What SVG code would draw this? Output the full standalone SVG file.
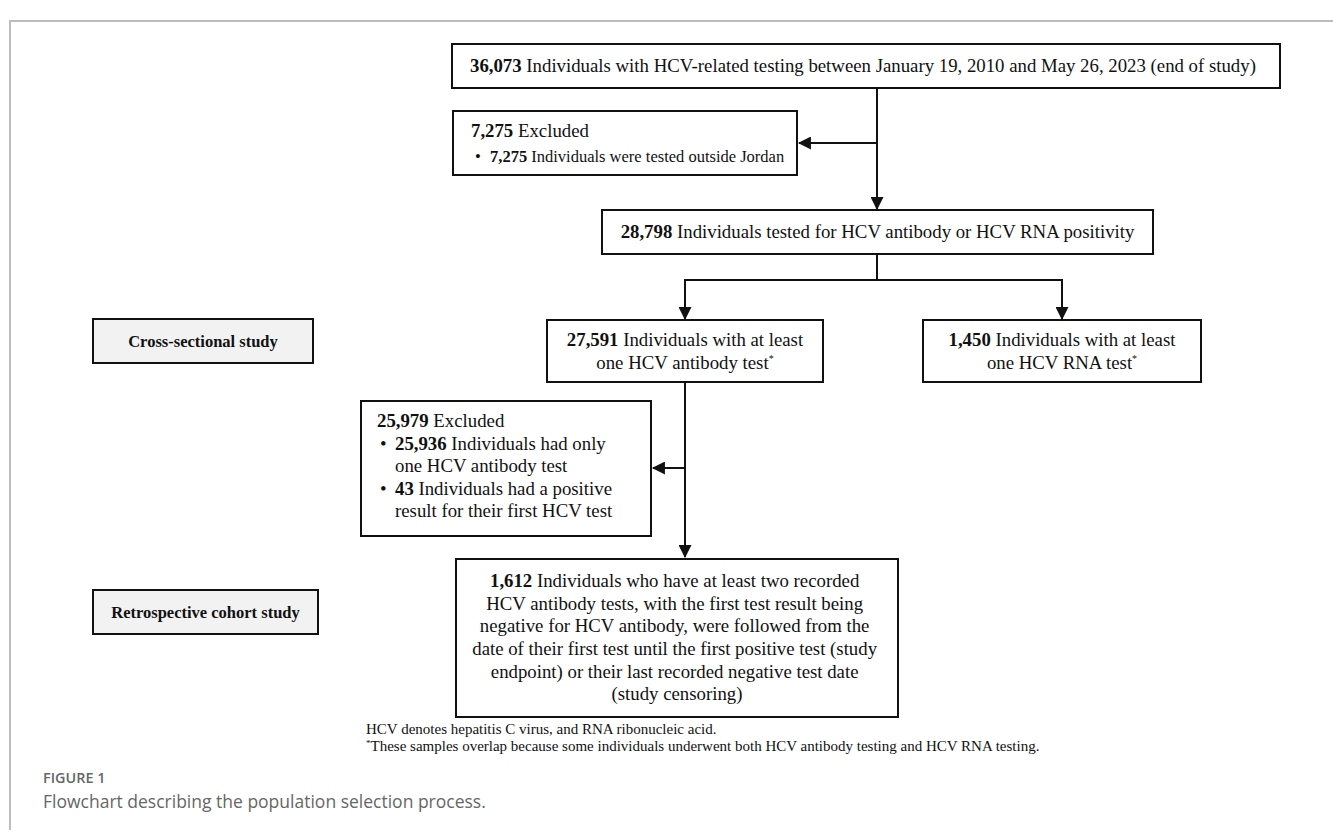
<svg xmlns="http://www.w3.org/2000/svg" width="1333" height="838" viewBox="0 0 1333 838">
<style>
.t{font-family:"Liberation Serif","Times New Roman",serif;font-size:18.8px;fill:#111}
.b{font-weight:bold}
.lbl{font-family:"Liberation Serif","Times New Roman",serif;font-size:16.5px;font-weight:bold;fill:#111}
.box{fill:#fff;stroke:#111;stroke-width:2}
.gbox{fill:#f2f2f2;stroke:#111;stroke-width:2}
.ln{fill:none;stroke:#111;stroke-width:2}
.fn{font-family:"Liberation Serif","Times New Roman",serif;font-size:15px;fill:#111}
.cap{font-family:"Open Sans","Noto Sans",sans-serif;fill:#666}
</style>
<defs>
<marker id="ah" viewBox="0 0 12 12" refX="11" refY="6" markerWidth="13" markerHeight="13" markerUnits="userSpaceOnUse" orient="auto">
<path d="M0,0 L12,6 L0,12 Z" fill="#111"/>
</marker>
</defs>
<rect width="1333" height="838" fill="#fff"/>
<path d="M10,830 V21 H1333" fill="none" stroke="#bdbdbd" stroke-width="2"/>

<g id="connectors">
<path class="ln" d="M877,88 V209" marker-end="url(#ah)"/>
<path class="ln" d="M877,143 H799" marker-end="url(#ah)"/>
<path class="ln" d="M877,254 V280 H685 V319"  marker-end="url(#ah)"/>
<path class="ln" d="M877,280 H1062 V319" marker-end="url(#ah)"/>
<path class="ln" d="M685,382 V557" marker-end="url(#ah)"/>
<path class="ln" d="M685,468 H653" marker-end="url(#ah)"/>
</g>

<g id="n-total">
<rect class="box" x="452" y="44" width="828" height="44"/>
<text class="t" x="470" y="72"><tspan class="b">36,073</tspan> Individuals with HCV-related testing between January 19, 2010 and May 26, 2023 (end of study)</text>
</g>

<g id="n-excl1">
<rect class="box" x="453" y="111" width="344" height="64"/>
<text class="t" x="471" y="137"><tspan class="b">7,275</tspan> Excluded</text>
<text class="t" y="162" style="font-size:16.5px"><tspan x="475">•</tspan><tspan x="490" class="b">7,275</tspan> Individuals were tested outside Jordan</text>
</g>

<g id="n-tested">
<rect class="box" x="602" y="210" width="551" height="44"/>
<text class="t" x="877.5" y="238" text-anchor="middle"><tspan class="b">28,798</tspan> Individuals tested for HCV antibody or HCV RNA positivity</text>
</g>

<g id="n-cross">
<rect class="gbox" x="93" y="319" width="220" height="44"/>
<text class="lbl" x="203" y="347" text-anchor="middle">Cross-sectional study</text>
</g>

<g id="n-antibody">
<rect class="box" x="547" y="320" width="276" height="62"/>
<text class="t" x="685" y="346" text-anchor="middle"><tspan class="b">27,591</tspan> Individuals with at least</text>
<text class="t" x="685" y="369" text-anchor="middle">one HCV antibody test<tspan font-size="10" dy="-7">*</tspan></text>
</g>

<g id="n-rna">
<rect class="box" x="923" y="320" width="278" height="62"/>
<text class="t" x="1062" y="346" text-anchor="middle"><tspan class="b">1,450</tspan> Individuals with at least</text>
<text class="t" x="1062" y="369" text-anchor="middle">one HCV RNA test<tspan font-size="10" dy="-7">*</tspan></text>
</g>

<g id="n-excl2">
<rect class="box" x="361" y="401" width="290" height="135"/>
<text class="t" x="377" y="427"><tspan class="b">25,979</tspan> Excluded</text>
<text class="t" y="450"><tspan x="380">•</tspan><tspan x="395" class="b">25,936</tspan> Individuals had only</text>
<text class="t" x="395" y="472">one HCV antibody test</text>
<text class="t" y="495"><tspan x="380">•</tspan><tspan x="395" class="b">43</tspan> Individuals had a positive</text>
<text class="t" x="395" y="517">result for their first HCV test</text>
</g>

<g id="n-cohort">
<rect class="gbox" x="93" y="590" width="225" height="44"/>
<text class="lbl" x="205.5" y="618" text-anchor="middle">Retrospective cohort study</text>
</g>

<g id="n-final">
<rect class="box" x="456" y="559" width="442" height="158"/>
<text class="t" text-anchor="middle">
<tspan x="677" y="587"><tspan class="b">1,612</tspan> Individuals who have at least two recorded</tspan>
<tspan x="677" y="610">HCV antibody tests, with the first test result being</tspan>
<tspan x="677" y="632">negative for HCV antibody, were followed from the</tspan>
<tspan x="677" y="655">date of their first test until the first positive test (study</tspan>
<tspan x="677" y="678">endpoint) or their last recorded negative test date</tspan>
<tspan x="677" y="700">(study censoring)</tspan>
</text>
</g>

<g id="footnotes">
<text class="fn" x="366" y="734">HCV denotes hepatitis C virus, and RNA ribonucleic acid.</text>
<text class="fn" x="366" y="751"><tspan font-size="9" dy="-5">*</tspan><tspan dy="5">These samples overlap because some individuals underwent both HCV antibody testing and HCV RNA testing.</tspan></text>
</g>

<g id="caption">
<text class="cap" x="43" y="783" font-size="14.4" font-weight="600">FIGURE 1</text>
<text class="cap" x="43" y="808" font-size="17.5" fill="#555">Flowchart describing the population selection process.</text>
</g>
</svg>
